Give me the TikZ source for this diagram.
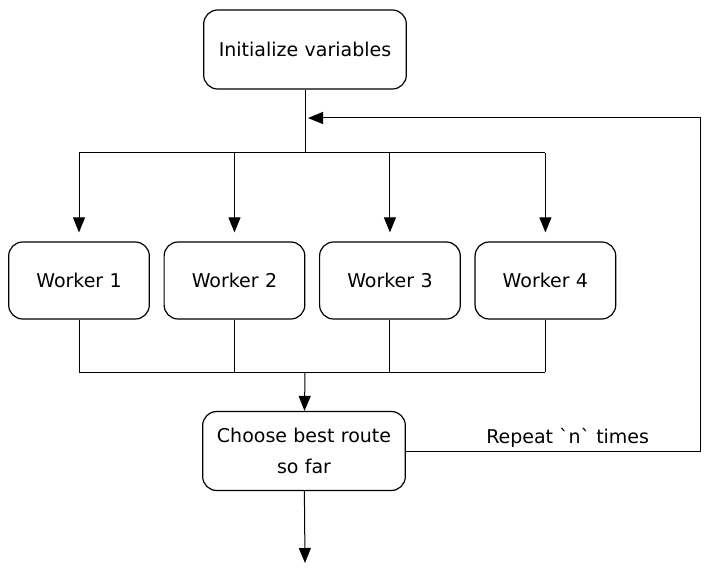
\documentclass[tikz,border=0pt]{standalone}
\usepackage{fontspec}
\setmainfont{DejaVu Sans}
\usetikzlibrary{positioning, arrows.meta}

\begin{document}
\begin{tikzpicture}[
    x=1pt, y=-1pt,
    node distance=13.6pt,
    task/.style={
        draw,
        rounded corners=14pt,
        line width=1.2pt,
        minimum width=202pt,
        minimum height=79pt,
        text width=196pt,
        align=center,
        font=\fontsize{19}{31}\selectfont
    },
    worker/.style={
        task,
        text width=134pt,
        minimum width=140pt,
        minimum height=77pt
    },
    link/.style={line width=1pt},
    arrow/.style={-{Triangle[length=15pt, width=12pt]}, line width=1pt}
]
\useasboundingbox (0,0) rectangle (711,572);

\node[task] (init) at (305,49.5) {Initialize variables};
\node[worker] (w1) at (79,280.5) {Worker 1};
\node[worker, right=of w1] (w2) {Worker 2};
\node[worker, right=of w2] (w3) {Worker 3};
\node[worker, right=of w3] (w4) {Worker 4};
\node[task] (best) at (304,451) {Choose best route\\so far};

\coordinate (split) at (305,153);
\coordinate (join) at (305,372);
\coordinate (back) at (700,118);
\coordinate (loop) at (308,118);
\coordinate (out) at (305,563);

\draw[link] (init) -- (split);
\draw[link] (w1.north |- split) -- (w4.north |- split);
\foreach \w in {w1,w2,w3,w4} {
    \draw[arrow, shorten >=9pt] (\w.north |- split) -- (\w.north);
    \draw[link] (\w) -- (\w.south |- join);
}
\draw[link] (w1.south |- join) -- (w4.south |- join);
\draw[arrow] (join) -- (best);
\draw[arrow] (best) -- (out);

\draw[arrow] (best.east) -- node[above, pos=0.55, font=\fontsize{19}{22}\selectfont]
    {Repeat \textasciigrave{}n\textasciigrave{} times} (back |- best.east) -- (back) -- (loop);

\end{tikzpicture}
\end{document}
